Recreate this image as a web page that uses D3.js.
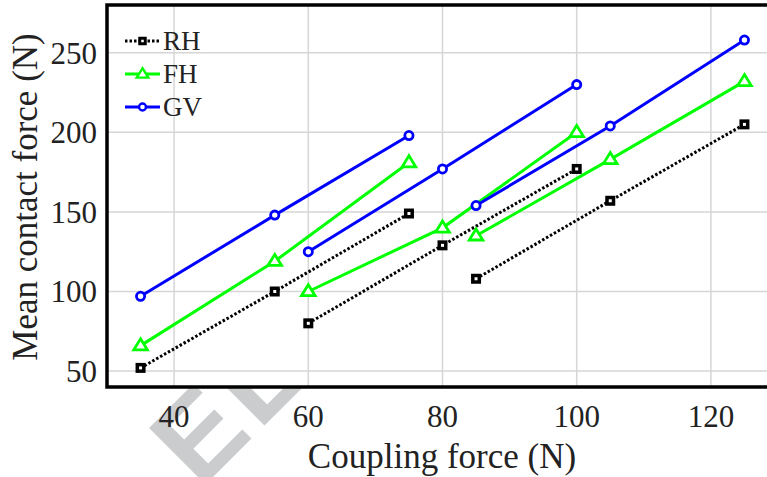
<!DOCTYPE html>
<meta charset="utf-8">
<title>Mean contact force vs coupling force</title>
<style>
    body { margin: 0; background: #fff; }
    text { font-family: "Liberation Serif", "Times New Roman", serif; fill: #222; }
</style>
<script src="https://d3js.org/d3.v7.js"></script>

<svg width="767" height="477"></svg>

<script>
    // data, three runs per series
    const couplingRuns = [[35, 55, 75], [60, 80, 100], [85, 105, 125]];
    const rhValues = [[52, 100, 149], [80, 129, 177], [108, 157, 205]];
    const fhValues = [[66, 119, 181], [100, 140, 200], [135, 183, 232]];
    const gvValues = [[97, 148, 198], [125, 177, 230], [154, 204, 258]];
    const xTicks = [40, 60, 80, 100, 120];
    const yTicks = [50, 100, 150, 200, 250];

    const svg = d3.select("svg");

    const plotLeft = 107, plotTop = 5, plotRight = 778, plotBottom = 387;

    const x = d3.scaleLinear().domain([30, 130]).range([plotLeft, plotRight]);
    const y = d3.scaleLinear().domain([40, 280]).range([plotBottom, plotTop]);

    // watermark, sits behind the white plot area
    svg.append("text")
        .attr("transform", "translate(200,490) rotate(-45)")
        .style("font-family", "Liberation Sans, sans-serif")
        .style("font-weight", "bold")
        .style("font-size", "116px")
        .style("fill", "#cbcccd")
        .style("letter-spacing", "6px")
        .text("ELSEVIER");

    svg.append("rect")
        .attr("x", plotLeft).attr("y", plotTop)
        .attr("width", plotRight - plotLeft).attr("height", plotBottom - plotTop)
        .attr("fill", "#fff");

    // grid
    svg.append("g").selectAll("line")
        .data(xTicks)
        .join("line")
        .attr("x1", d => x(d)).attr("x2", d => x(d))
        .attr("y1", plotTop).attr("y2", plotBottom)
        .attr("stroke", "#d6d6d6").attr("stroke-width", 1.5);

    svg.append("g").selectAll("line")
        .data(yTicks)
        .join("line")
        .attr("x1", plotLeft).attr("x2", plotRight)
        .attr("y1", d => y(d)).attr("y2", d => y(d))
        .attr("stroke", "#d6d6d6").attr("stroke-width", 1.5);

    // tick labels
    svg.append("g").selectAll("text")
        .data(xTicks)
        .join("text")
        .attr("x", d => x(d))
        .attr("y", 427)
        .attr("text-anchor", "middle")
        .style("font-size", "31px")
        .text(d => d);

    svg.append("g").selectAll("text")
        .data(yTicks)
        .join("text")
        .attr("x", 97)
        .attr("y", d => y(d))
        .attr("dy", "0.35em")
        .attr("text-anchor", "end")
        .style("font-size", "31px")
        .text(d => d);

    // axis titles
    svg.append("text")
        .attr("x", 442).attr("y", 468)
        .attr("text-anchor", "middle")
        .style("font-size", "35px")
        .text("Coupling force (N)");

    svg.append("text")
        .attr("transform", "translate(37,197) rotate(-90)")
        .attr("text-anchor", "middle")
        .style("font-size", "35px")
        .text("Mean contact force (N)");

    const series = [
        {name: "RH", values: rhValues, color: "#000", dash: "2.5,2", marker: "square"},
        {name: "FH", values: fhValues, color: "#00ff00", dash: null, marker: "triangle"},
        {name: "GV", values: gvValues, color: "#0000ff", dash: null, marker: "circle"}
    ];

    const line = d3.line().x(d => x(d[0])).y(d => y(d[1]));

    // k scales the marker (1 on the plot, smaller in the legend)
    function drawMarker(g, type, color, k) {
        if (type === "square") {
            const s = 6.5 * k;
            g.append("rect")
                .attr("x", -s / 2).attr("y", -s / 2)
                .attr("width", s).attr("height", s)
                .attr("fill", "#fff").attr("stroke", color).attr("stroke-width", 3.5 * k);
        } else if (type === "triangle") {
            const s = 6.8 * k;
            g.append("path")
                .attr("d", `M0,${-s}L${s},${s * 0.62}L${-s},${s * 0.62}Z`)
                .attr("fill", "#fff").attr("stroke", color).attr("stroke-width", 2.8 * k)
                .attr("stroke-linejoin", "miter");
        } else {
            g.append("circle")
                .attr("r", 4.1 * k)
                .attr("fill", "#fff").attr("stroke", color).attr("stroke-width", 2.8 * k);
        }
    }

    series.forEach(s => {
        const g = svg.append("g");
        couplingRuns.forEach((xs, i) => {
            const pts = xs.map((v, j) => [v, s.values[i][j]]);
            g.append("path")
                .datum(pts)
                .attr("d", line)
                .attr("fill", "none")
                .attr("stroke", s.color)
                .attr("stroke-width", 3)
                .attr("stroke-dasharray", s.dash);
            pts.forEach(p => {
                const m = g.append("g").attr("transform", `translate(${x(p[0])},${y(p[1])})`);
                drawMarker(m, s.marker, s.color, 1);
            });
        });
    });

    // frame (right side runs off the picture)
    svg.append("path")
        .attr("d", `M${plotRight},${plotTop}H${plotLeft}V${plotBottom}H${plotRight}`)
        .attr("fill", "none")
        .attr("stroke", "#000")
        .attr("stroke-width", 3.5);

    // legend
    const legend = svg.append("g").attr("transform", "translate(125,0)");
    const legendY = [41, 74, 107];
    series.forEach((s, i) => {
        const row = legend.append("g").attr("transform", `translate(0,${legendY[i]})`);
        row.append("line")
            .attr("x1", 0).attr("x2", 35)
            .attr("stroke", s.color)
            .attr("stroke-width", 3)
            .attr("stroke-dasharray", s.dash);
        const m = row.append("g").attr("transform", "translate(17.5,0)");
        drawMarker(m, s.marker, s.color, 0.85);
        row.append("text")
            .attr("x", 38)
            .attr("dy", "0.35em")
            .style("font-size", "27px")
            .text(s.name);
    });
</script>
